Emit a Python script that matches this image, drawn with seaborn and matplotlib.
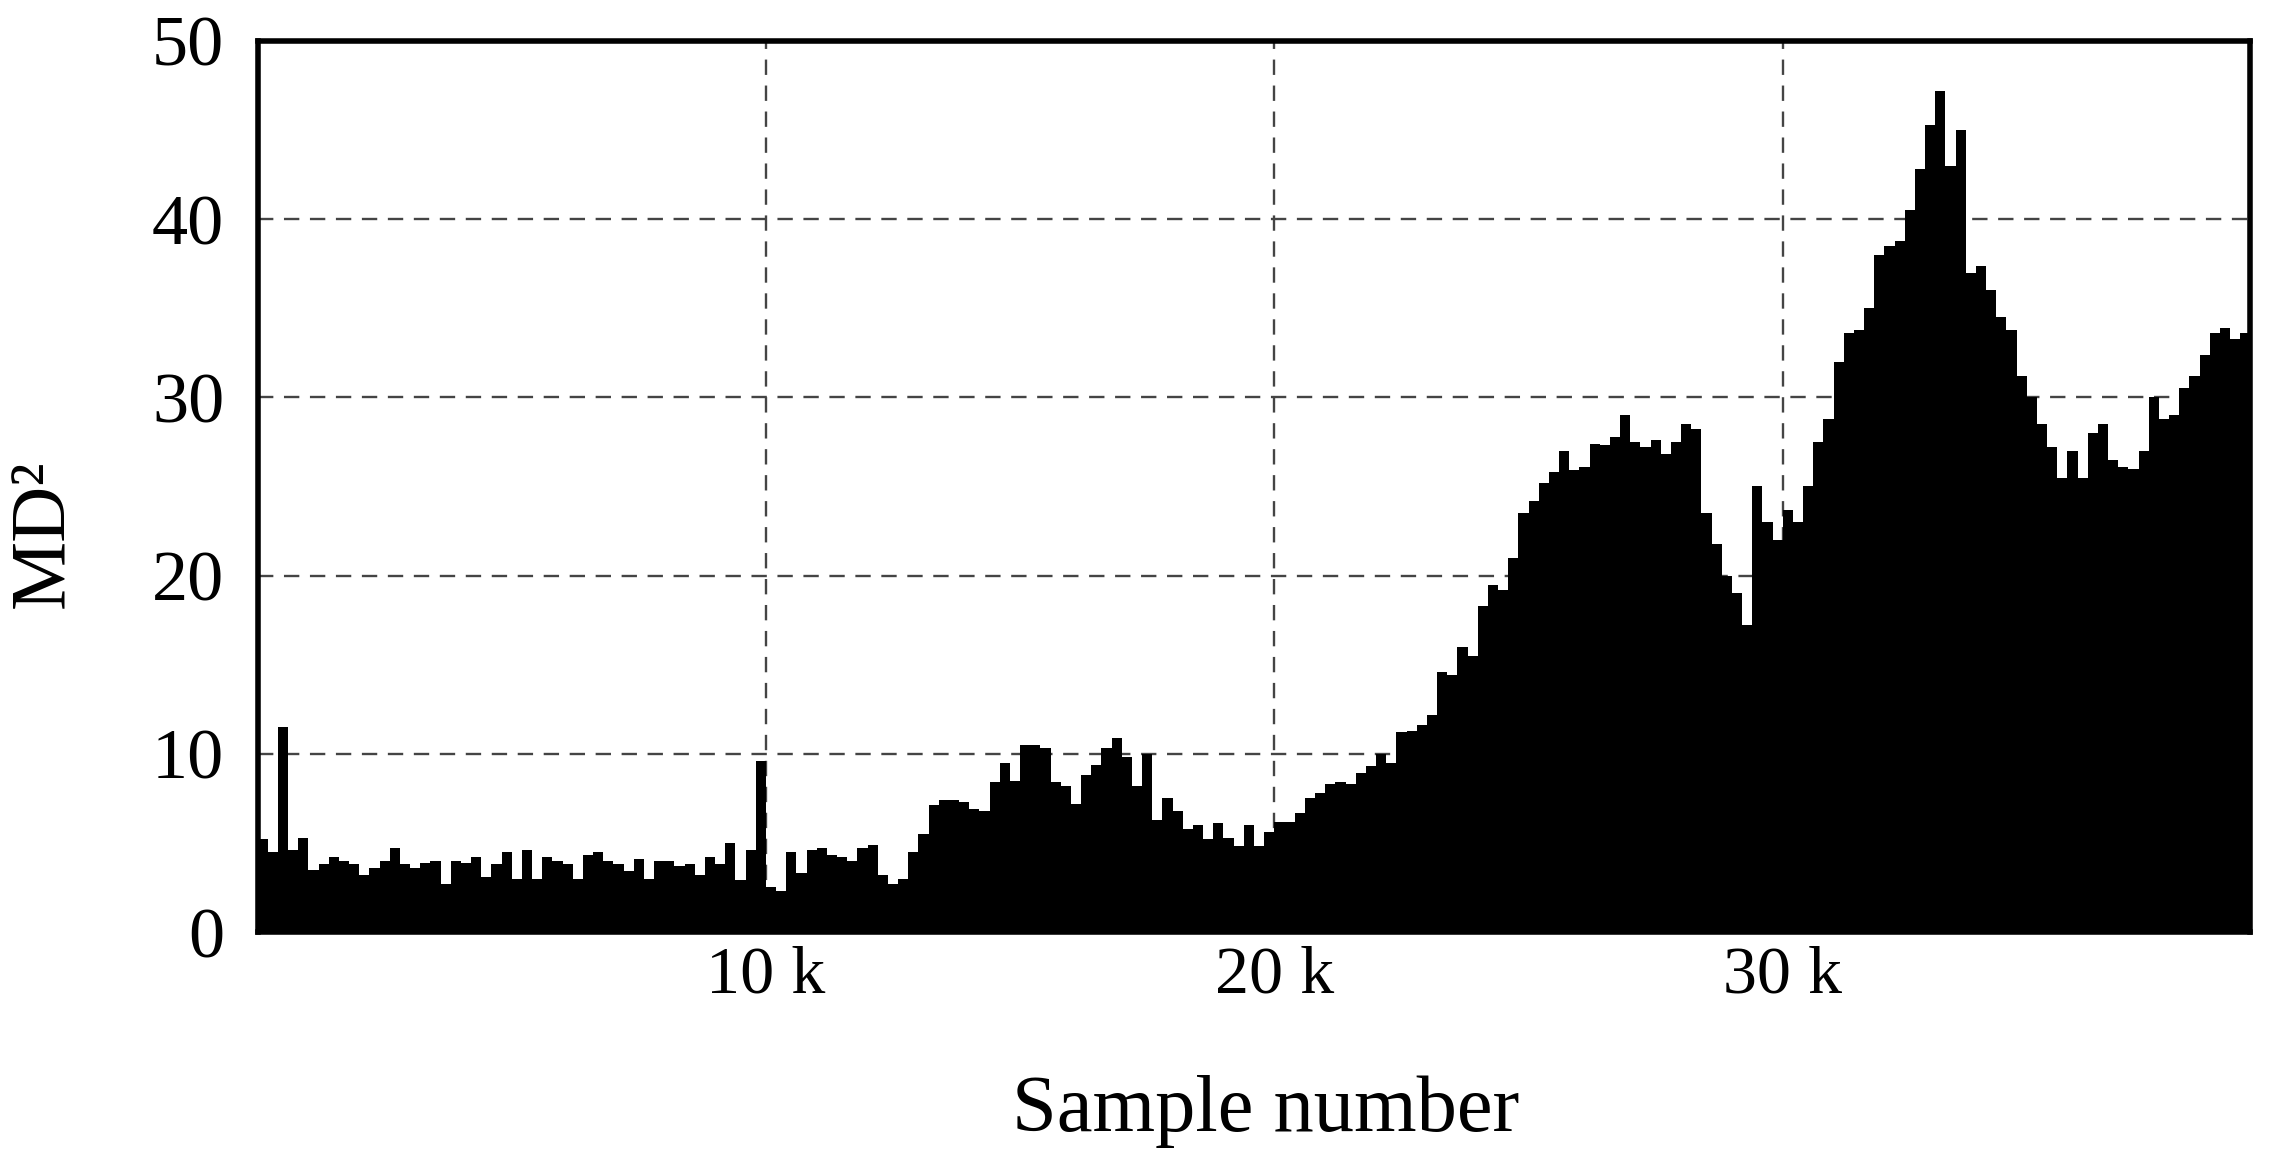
import numpy as np
import pandas as pd
import matplotlib
matplotlib.use("Agg")
import matplotlib.pyplot as plt
import seaborn as sns

# MD^2, one value per block of 200 samples (0 .. 39.2k)
bin_width = 200
md2 = [
    5.2, 4.5, 11.5, 4.6, 5.3, 3.5, 3.8, 4.2, 4.0, 3.8,
    3.2, 3.6, 4.0, 4.7, 3.8, 3.6, 3.9, 4.0, 2.7, 4.0,
    3.9, 4.2, 3.1, 3.8, 4.5, 3.0, 4.6, 3.0, 4.2, 4.0,
    3.8, 3.0, 4.3, 4.5, 4.0, 3.8, 3.4, 4.1, 3.0, 4.0,
    4.0, 3.7, 3.8, 3.2, 4.2, 3.8, 5.0, 2.9, 4.6, 9.6,
    2.5, 2.3, 4.5, 3.3, 4.6, 4.7, 4.3, 4.2, 4.0, 4.7,
    4.9, 3.2, 2.7, 3.0, 4.5, 5.5, 7.1, 7.4, 7.4, 7.3,
    6.9, 6.8, 8.4, 9.5, 8.5, 10.5, 10.5, 10.3, 8.4, 8.2,
    7.2, 8.8, 9.4, 10.3, 10.9, 9.8, 8.2, 10.0, 6.3, 7.5,
    6.8, 5.8, 6.0, 5.2, 6.1, 5.3, 4.8, 6.0, 4.8, 5.6,
    6.2, 6.2, 6.7, 7.5, 7.8, 8.3, 8.4, 8.3, 8.9, 9.3,
    10.0, 9.5, 11.2, 11.3, 11.6, 12.2, 14.6, 14.4, 16.0, 15.5,
    18.3, 19.5, 19.2, 21.0, 23.5, 24.2, 25.2, 25.8, 27.0, 25.9,
    26.1, 27.4, 27.3, 27.8, 29.0, 27.5, 27.2, 27.6, 26.8, 27.5,
    28.5, 28.2, 23.5, 21.8, 20.0, 19.0, 17.2, 25.0, 23.0, 22.0,
    23.7, 23.0, 25.0, 27.5, 28.8, 32.0, 33.6, 33.8, 35.0, 38.0,
    38.5, 38.8, 40.5, 42.8, 45.3, 47.2, 43.0, 45.0, 37.0, 37.4,
    36.0, 34.5, 33.8, 31.2, 30.0, 28.5, 27.2, 25.5, 27.0, 25.5,
    28.0, 28.5, 26.5, 26.1, 26.0, 27.0, 30.0, 28.8, 29.0, 30.5,
    31.2, 32.4, 33.6, 33.9, 33.3, 33.6,
]
xtick_vals = [10000, 20000, 30000]
xtick_labels = ["10 k", "20 k", "30 k"]
ytick_vals = [0, 10, 20, 30, 40, 50]

n_bins = len(md2)
df = pd.DataFrame({"sample": np.arange(n_bins) * bin_width + bin_width / 2,
                   "md2": md2})

sns.set_style("white")
plt.rcParams["font.family"] = ["Liberation Serif", "DejaVu Serif"]
plt.rcParams["text.color"] = "black"
plt.rcParams["xtick.color"] = "black"
plt.rcParams["ytick.color"] = "black"
plt.rcParams["axes.labelcolor"] = "black"

fig = plt.figure(figsize=(22.8, 11.7), dpi=100)
ax = fig.add_axes([0.113, 0.2034, 0.874, 0.7616])

sns.histplot(data=df, x="sample", weights="md2", binwidth=bin_width,
             binrange=(0, n_bins * bin_width), element="step",
             fill=True, color="black", alpha=1, linewidth=0, ax=ax)

ax.set_xlim(0, 39200)
ax.set_ylim(0, 50)
ax.set_xticks(xtick_vals)
ax.set_xticklabels(xtick_labels)
ax.set_yticks(ytick_vals)
ax.tick_params(axis="both", length=0)
ax.tick_params(axis="x", pad=10, labelsize=49)
ax.tick_params(axis="y", pad=24, labelsize=52)

ax.set_axisbelow(True)
ax.grid(True, color="#444444", linestyle=(0, (6.5, 4.5)), linewidth=1.7)

for s in ax.spines.values():
    s.set_visible(True)
    s.set_color("black")
    s.set_linewidth(4)

ax.set_xlabel("Sample number", fontsize=58)
ax.set_ylabel("MD²", fontsize=56)
ax.xaxis.set_label_coords(0.506, -0.16)
ax.yaxis.set_label_coords(-0.089, 0.447)

fig.savefig("out.png", dpi=100)
